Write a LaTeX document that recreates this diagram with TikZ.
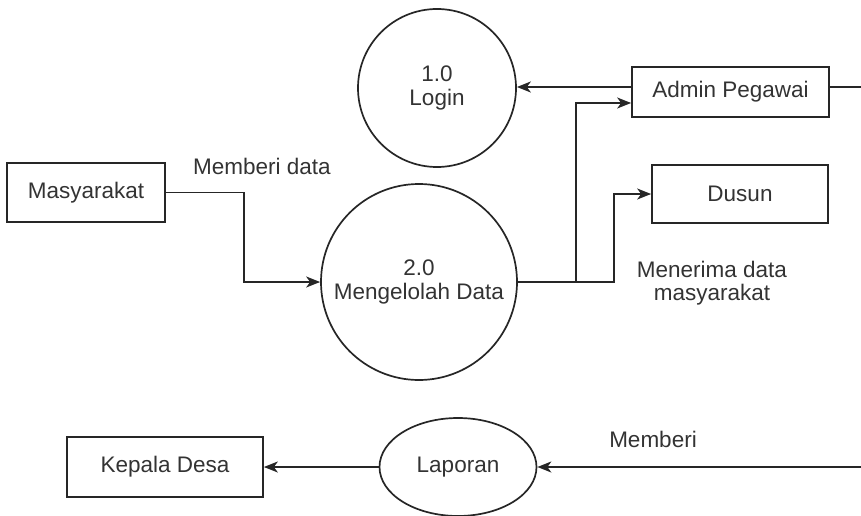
\documentclass[tikz,border=0pt]{standalone}
\usepackage{fontspec}
\setmainfont{Liberation Sans}
\usetikzlibrary{arrows.meta,shapes.geometric}
\begin{document}
\begin{tikzpicture}[x=1pt,y=-1pt,
  every node/.style={font=\fontsize{22.5}{23.5}\selectfont, text=black!80},
  ent/.style={draw=black!85, line width=1.7pt, rectangle, inner sep=0pt},
  proc/.style={draw=black!85, line width=1.7pt, circle, inner sep=0pt, align=center},
  ell/.style={draw=black!85, line width=1.7pt, ellipse, inner sep=0pt},
  link/.style={draw=black!85, line width=1.7pt},
  flow/.style={link, -{Stealth[length=14pt,width=11pt,inset=4pt]}},
  lbl/.style={align=center}]
\useasboundingbox (0,0) rectangle (861,516);
% nodes
\node[proc, minimum size=158pt] (login) at (437,88) {1.0\\Login};
\node[ent, minimum width=197pt, minimum height=50pt] (admin) at (730.5,92) {Admin Pegawai};
\node[ent, minimum width=158pt, minimum height=59pt] (mas) at (86,192.5) {Masyarakat};
\node[proc, minimum size=196pt] (proc2) at (419,282) {2.0\\Mengelolah Data};
\node[ent, minimum width=176pt, minimum height=58pt] (dusun) at (740,194) {Dusun};
\node[ell, minimum width=157pt, minimum height=98pt] (lap) at (458,467) {Laporan};
\node[ent, minimum width=196pt, minimum height=60pt] (kd) at (165,467) {Kepala Desa};
% labels
\node[lbl] (l1) at (262,166) {Memberi data};
\node[lbl] (l2) at (712,283) {Menerima data\\masyarakat};
\node[lbl] (l3) at (653,439) {Memberi};
% coordinates
\coordinate (redge1) at (861,87);
\coordinate (redge2) at (861,467);
\coordinate (split) at (576,282);
% connectors
\draw[flow] (admin.west |- redge1) -- (login.east |- redge1);
\draw[link] (admin.east |- redge1) -- (redge1);
\draw[flow] (mas.east) -- ++(78,0) |- (proc2.west);
\draw[flow] (proc2.east) -- ++(96,0) |- (dusun.west);
\draw[flow] (split) |- ([yshift=-11pt]admin.west);
\draw[flow] (redge2) -- (lap.east);
\draw[flow] (lap.west) -- (kd.east);
\end{tikzpicture}
\end{document}
